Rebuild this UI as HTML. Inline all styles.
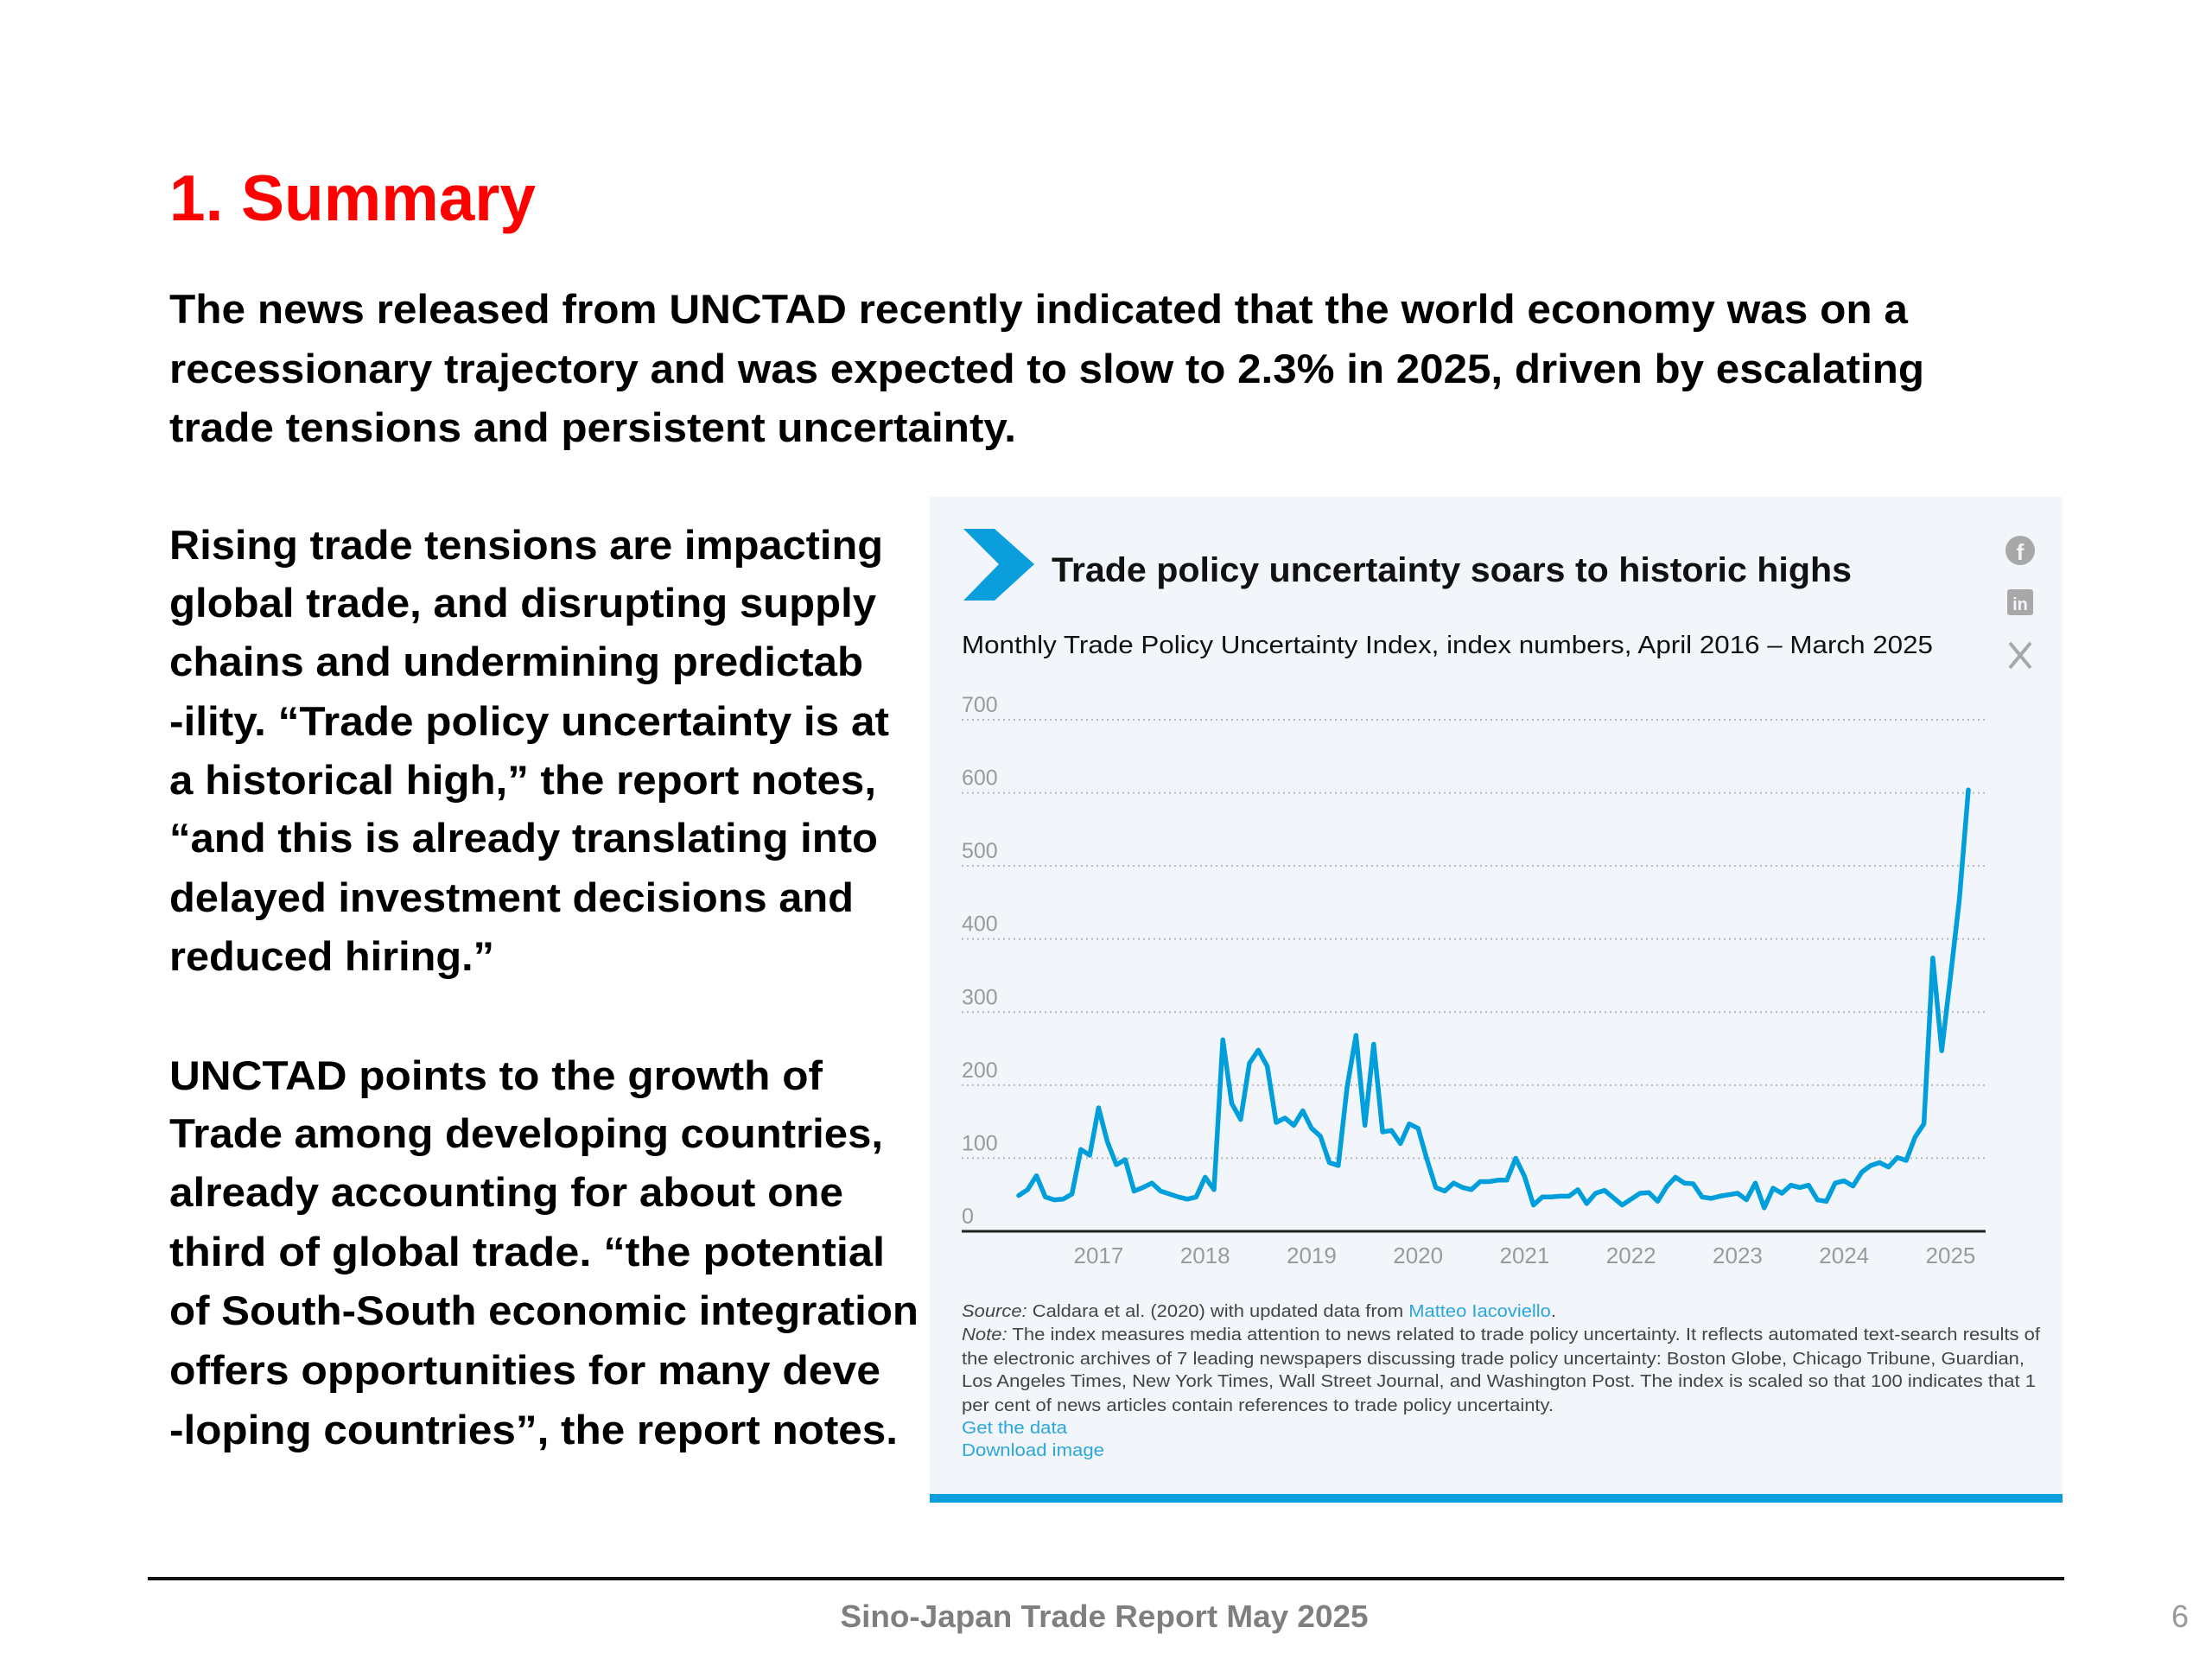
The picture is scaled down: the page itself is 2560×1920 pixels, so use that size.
<!DOCTYPE html>
<html><head><meta charset="utf-8"><title>Sino-Japan Trade Report</title>
<style>
html,body{margin:0;padding:0;background:#fff;width:2560px;height:1920px;overflow:hidden}
svg{position:absolute;left:0;top:0;font-family:"Liberation Sans",Arial,sans-serif}
.b{font-weight:bold;fill:#000;font-size:47px}
</style></head>
<body>
<svg id="page" width="2560" height="1920" viewBox="0 0 2560 1920">
<text x="196" y="255" font-size="75" font-weight="bold" fill="#ff0000" textLength="424" lengthAdjust="spacingAndGlyphs">1. Summary</text>
<g>
<text class="b" x="196" y="374" textLength="2012" lengthAdjust="spacingAndGlyphs">The news released from UNCTAD recently indicated that the world economy was on a</text>
<text class="b" x="196" y="443" textLength="2031" lengthAdjust="spacingAndGlyphs">recessionary trajectory and was expected to slow to 2.3% in 2025, driven by escalating</text>
<text class="b" x="196" y="511" textLength="980" lengthAdjust="spacingAndGlyphs">trade tensions and persistent uncertainty.</text>
</g>
<g>
<text class="b" x="196" y="647" textLength="826" lengthAdjust="spacingAndGlyphs">Rising trade tensions are impacting</text>
<text class="b" x="196" y="714" textLength="818" lengthAdjust="spacingAndGlyphs">global trade, and disrupting supply</text>
<text class="b" x="196" y="782" textLength="803" lengthAdjust="spacingAndGlyphs">chains and undermining predictab</text>
<text class="b" x="196" y="851" textLength="833" lengthAdjust="spacingAndGlyphs">-ility. “Trade policy uncertainty is at</text>
<text class="b" x="196" y="919" textLength="818" lengthAdjust="spacingAndGlyphs">a historical high,” the report notes,</text>
<text class="b" x="196" y="986" textLength="820" lengthAdjust="spacingAndGlyphs">“and this is already translating into</text>
<text class="b" x="196" y="1055" textLength="792" lengthAdjust="spacingAndGlyphs">delayed investment decisions and</text>
<text class="b" x="196" y="1123" textLength="376" lengthAdjust="spacingAndGlyphs">reduced hiring.”</text>
</g>
<g>
<text class="b" x="196" y="1261" textLength="756" lengthAdjust="spacingAndGlyphs">UNCTAD points to the growth of</text>
<text class="b" x="196" y="1328" textLength="826" lengthAdjust="spacingAndGlyphs">Trade among developing countries,</text>
<text class="b" x="196" y="1396" textLength="780" lengthAdjust="spacingAndGlyphs">already accounting for about one</text>
<text class="b" x="196" y="1465" textLength="828" lengthAdjust="spacingAndGlyphs">third of global trade. “the potential</text>
<text class="b" x="196" y="1533" textLength="867" lengthAdjust="spacingAndGlyphs">of South-South economic integration</text>
<text class="b" x="196" y="1602" textLength="823" lengthAdjust="spacingAndGlyphs">offers opportunities for many deve</text>
<text class="b" x="196" y="1671" textLength="843" lengthAdjust="spacingAndGlyphs">-loping countries”, the report notes.</text>
</g>

<g>
<rect x="1076" y="575" width="1311" height="1164" fill="#f2f6fa"/>
<rect x="1076" y="1729" width="1311" height="10" fill="#0a9fdc"/>
<polygon points="1115,612 1151,612 1197,653 1151,695 1115,695 1156,653" fill="#0a9fdc"/>
<text x="1217" y="673" font-size="40" font-weight="bold" fill="#111" textLength="926" lengthAdjust="spacingAndGlyphs">Trade policy uncertainty soars to historic highs</text>
<text x="1113" y="756" font-size="29" fill="#111" textLength="1124" lengthAdjust="spacingAndGlyphs">Monthly Trade Policy Uncertainty Index, index numbers, April 2016 – March 2025</text>
<g><circle cx="2338" cy="637" r="17" fill="#a8a8a8"/><text x="2338" y="648" font-size="26" font-weight="bold" fill="#f2f6fa" text-anchor="middle">f</text></g>
<g><rect x="2323" y="682" width="30" height="30" rx="3" fill="#a8a8a8"/><text x="2338" y="706" font-size="20" font-weight="bold" fill="#f2f6fa" text-anchor="middle">in</text></g>
<g><path d="M2326 744 L2350 773 M2350 744 L2326 773" stroke="#a8a8a8" stroke-width="4"/></g>
<g id="plot"></g>
<g font-size="20" fill="#444">
<text x="1113" y="1524" textLength="688" lengthAdjust="spacingAndGlyphs"><tspan font-style="italic">Source:</tspan> Caldara et al. (2020) with updated data from <tspan fill="#2ba6dc">Matteo Iacoviello</tspan>.</text>
<text x="1113" y="1551" textLength="1248" lengthAdjust="spacingAndGlyphs"><tspan font-style="italic">Note:</tspan> The index measures media attention to news related to trade policy uncertainty. It reflects automated text-search results of</text>
<text x="1113" y="1579" textLength="1230" lengthAdjust="spacingAndGlyphs">the electronic archives of 7 leading newspapers discussing trade policy uncertainty: Boston Globe, Chicago Tribune, Guardian,</text>
<text x="1113" y="1605" textLength="1243" lengthAdjust="spacingAndGlyphs">Los Angeles Times, New York Times, Wall Street Journal, and Washington Post. The index is scaled so that 100 indicates that 1</text>
<text x="1113" y="1633" textLength="685" lengthAdjust="spacingAndGlyphs">per cent of news articles contain references to trade policy uncertainty.</text>
</g>
<text x="1113" y="1659" font-size="20" fill="#2ba6dc" textLength="122" lengthAdjust="spacingAndGlyphs">Get the data</text>
<text x="1113" y="1685" font-size="20" fill="#2ba6dc" textLength="165" lengthAdjust="spacingAndGlyphs">Download image</text>
</g>

<line x1="171" y1="1827" x2="2389" y2="1827" stroke="#111" stroke-width="4"/>
<text x="1278" y="1883" font-size="36" font-weight="bold" fill="#7f7f7f" text-anchor="middle" textLength="611" lengthAdjust="spacingAndGlyphs">Sino-Japan Trade Report May 2025</text>
<text x="2533" y="1883" font-size="36" fill="#999" text-anchor="end">6</text>
</svg>
<script>
const yTicks = [0, 100, 200, 300, 400, 500, 600, 700];
const yearLabels = ["2017", "2018", "2019", "2020", "2021", "2022", "2023", "2024", "2025"];
const startYear = 2016;
const startMonth = 4;
const tpuValues = [49,57,76,47,43,44,51,112,104,169,122,91,98,55,60,66,55,51,47,44,47,74,57,262,175,153,230,248,226,149,155,145,165,141,130,94,90,197,268,145,256,136,138,120,147,141,98,60,55,66,60,57,68,
68,70,70,100,75,36,47,47,48,48,57,38,52,56,46,36,44,52,53,41,61,74,66,65,47,45,48,50,52,43,66,32,59,52,63,60,63,43,41,66,69,62,81,90,94,88,101,97,129,147,374,247,350,455,604];

const NS = "http://www.w3.org/2000/svg";
const plot = document.getElementById('plot');
const X0 = 1179, X1 = 2278, Y0 = 1425, YMAX = 700, YTOP = 833, GL = 1113, GR = 2298;
const xScale = i => X0 + (X1 - X0) * i / (tpuValues.length - 1);
const yScale = v => Y0 - (Y0 - YTOP) * v / YMAX;
function mk(tag, attrs) { const e = document.createElementNS(NS, tag); for (const k in attrs) e.setAttribute(k, attrs[k]); plot.appendChild(e); return e; }

yTicks.forEach(t => {
  const y = yScale(t);
  if (t > 0) {
    const g = mk('line', {x1: GL, x2: GR, y1: y, y2: y, stroke: '#b5b8bc', 'stroke-width': 2, 'stroke-dasharray': '2 4'});
    
    
  }
  const lab = mk('text', {x: GL, y: y - 9, 'font-size': 25, fill: '#9a9a9a'});
  lab.textContent = t;
  
  
});
const axis = mk('line', {x1: GL, x2: GR, y1: Y0, y2: Y0, stroke: '#222', 'stroke-width': 3});



yearLabels.forEach(yl => {
  const idx = (parseInt(yl) - startYear) * 12 + (1 - startMonth);
  const t = mk('text', {x: xScale(idx), y: 1462, 'font-size': 26, fill: '#9a9a9a', 'text-anchor': 'middle'});
  t.textContent = yl;
  
  
});

const pts = tpuValues.map((v, i) => xScale(i).toFixed(1) + ',' + yScale(v).toFixed(1)).join(' ');
const line = mk('polyline', {points: pts, fill: 'none', stroke: '#009edb', 'stroke-width': 5.5, 'stroke-linejoin': 'round', 'stroke-linecap': 'round'});


</script>
</body></html>
